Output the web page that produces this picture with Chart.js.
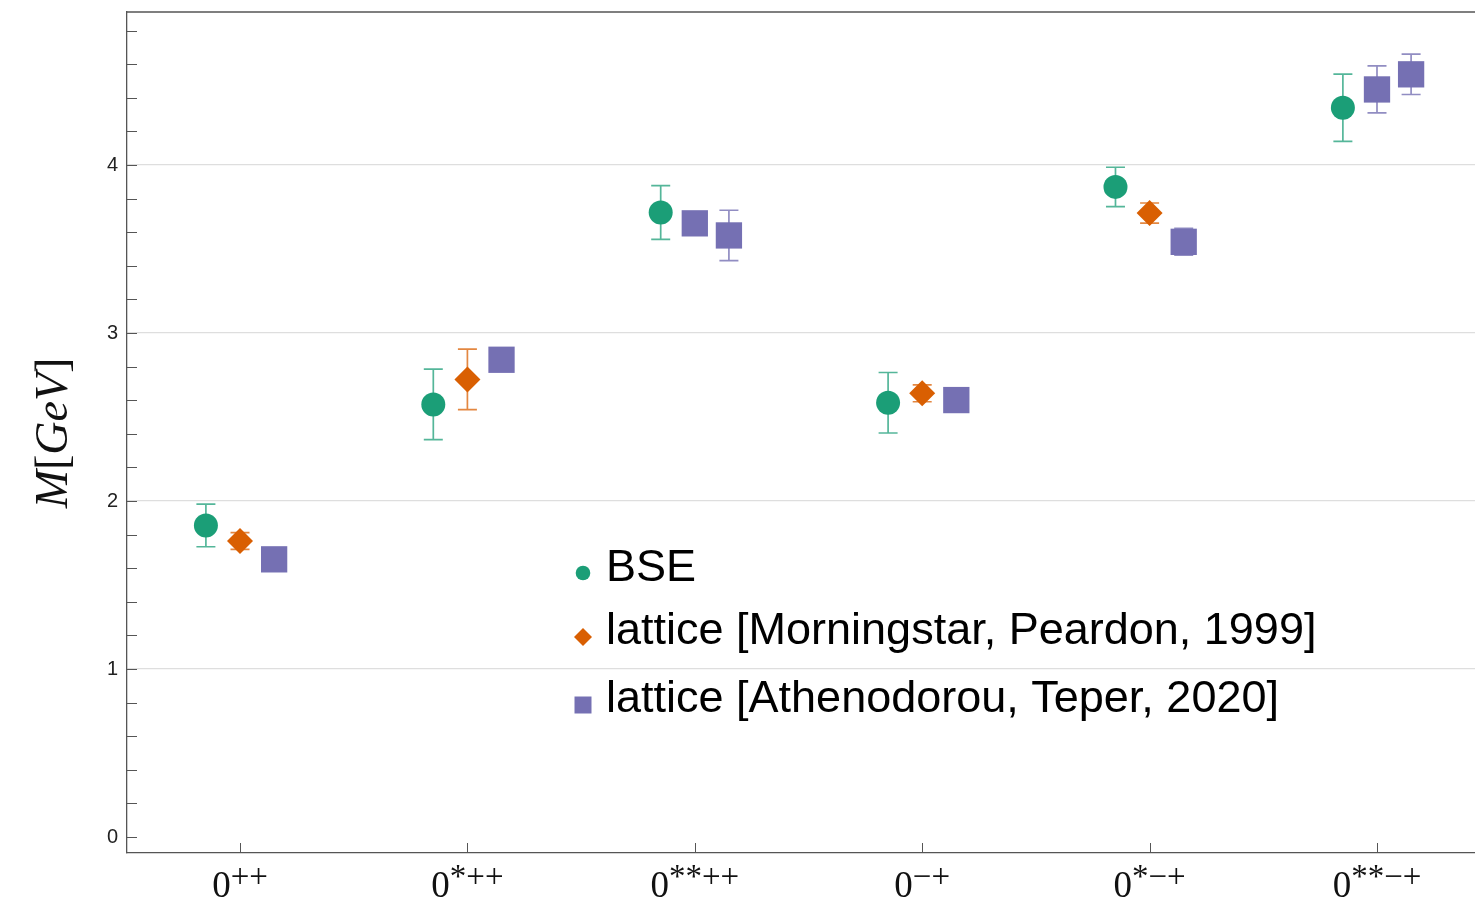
<!DOCTYPE html>
<html lang="en">
<head>
<meta charset="UTF-8">
<title>Glueball masses</title>
<script src="https://cdn.jsdelivr.net/npm/chart.js"></script>
<style>
  html, body { margin: 0; padding: 0; background: white; }
  canvas { display: block; }
</style>
</head>
<body>
<canvas id="mass-chart" width="1475" height="900"></canvas>
<script>
// states on the x axis: "0" with a superscript
const stateBase = ['0', '0', '0', '0', '0', '0'];
const stateSup = ['++', '*++', '**++', '\u2212+', '*\u2212+', '**\u2212+'];

// BSE
const bseState = [0, 1, 2, 3, 4, 5];
const bseMass = [1.855, 2.575, 3.718, 2.585, 3.870, 4.341];
const bseErr = [0.127, 0.21, 0.16, 0.18, 0.117, 0.20];

// lattice [Morningstar, Peardon, 1999]
const mpState = [0, 1, 3, 4];
const mpMass = [1.762, 2.724, 2.641, 3.714];
const mpErr = [0.05, 0.18, 0.05, 0.06];

// lattice [Athenodorou, Teper, 2020]
const atState = [0, 1, 2, 2, 3, 4, 5, 5];
const atMass = [1.653, 2.841, 3.653, 3.581, 2.601, 3.543, 4.450, 4.540];
const atErr = [null, null, null, 0.15, null, 0.08, 0.14, 0.12];

const yTicks = [0, 1, 2, 3, 4];

const legendNames = ['BSE', 'lattice [Morningstar, Peardon, 1999]', 'lattice [Athenodorou, Teper, 2020]'];

const green = '#1b9e77', orange = '#d95f02', purple = '#7570b3';

function points(states, masses, errs, shiftOf) {
    return states.map((s, i) => ({ x: s + shiftOf(s, i), y: masses[i], err: errs[i] }));
}

// lattice points: when a state has two entries the first one sits in the middle slot
const atShift = (s, i) => {
    const count = atState.filter(v => v === s).length;
    return (count > 1 && atState.indexOf(s) === i) ? 0 : 0.15;
};

const errorBars = {
    id: 'errorBars',
    beforeDatasetsDraw(chart) {
        const { ctx, scales: { x, y } } = chart;
        chart.data.datasets.forEach(ds => {
            ctx.save();
            ctx.strokeStyle = ds.errColor;
            ctx.lineWidth = 1.7;
            ds.data.forEach(p => {
                if (p.err == null) return;
                const px = x.getPixelForValue(p.x);
                const top = y.getPixelForValue(p.y + p.err);
                const bot = y.getPixelForValue(p.y - p.err);
                ctx.beginPath();
                ctx.moveTo(px, top); ctx.lineTo(px, bot);
                ctx.moveTo(px - 9.5, top); ctx.lineTo(px + 9.5, top);
                ctx.moveTo(px - 9.5, bot); ctx.lineTo(px + 9.5, bot);
                ctx.stroke();
            });
            ctx.restore();
        });
    }
};

function marker(ctx, style, cx, cy, size, color) {
    ctx.fillStyle = color;
    ctx.beginPath();
    if (style === 'circle') {
        ctx.arc(cx, cy, size, 0, Math.PI * 2);
    } else if (style === 'rectRot') {
        ctx.moveTo(cx - size, cy); ctx.lineTo(cx, cy - size);
        ctx.lineTo(cx + size, cy); ctx.lineTo(cx, cy + size);
        ctx.closePath();
    } else {
        ctx.rect(cx - size, cy - size, size * 2, size * 2);
    }
    ctx.fill();
}

const frame = {
    id: 'frame',
    afterDraw(chart) {
        const { ctx, chartArea: a, scales: { x, y } } = chart;
        ctx.save();
        ctx.strokeStyle = '#555';
        ctx.lineWidth = 1.3;
        // top border
        ctx.beginPath();
        ctx.moveTo(a.left, a.top); ctx.lineTo(a.right, a.top);
        ctx.stroke();

        // inward ticks, y every 0.2
        ctx.lineWidth = 1;
        ctx.beginPath();
        for (let k = 0; k <= 24; k++) {
            const py = Math.round(y.getPixelForValue(k / 5)) + 0.5;
            ctx.moveTo(a.left, py); ctx.lineTo(a.left + 10, py);
        }
        stateBase.forEach((_, i) => {
            const px = Math.round(x.getPixelForValue(i)) + 0.5;
            ctx.moveTo(px, a.bottom); ctx.lineTo(px, a.bottom - 10);
        });
        ctx.stroke();

        // x labels
        ctx.fillStyle = '#111';
        ctx.textBaseline = 'alphabetic';
        ctx.textAlign = 'left';
        stateBase.forEach((b, i) => {
            const px = x.getPixelForValue(i);
            ctx.font = '37px "Liberation Serif"';
            const wb = ctx.measureText(b).width;
            ctx.font = '33px "Liberation Serif"';
            const ws = ctx.measureText(stateSup[i]).width;
            const start = px - (wb + ws) / 2;
            ctx.font = '37px "Liberation Serif"';
            ctx.fillText(b, start, 897);
            ctx.font = '33px "Liberation Serif"';
            ctx.fillText(stateSup[i], start + wb, 887);
        });

        // y title M[GeV]
        const parts = [['M', 'italic'], ['[', 'normal'], ['GeV', 'italic'], [']', 'normal']];
        ctx.save();
        ctx.translate(67, 433);
        ctx.rotate(-Math.PI / 2);
        let total = 0;
        parts.forEach(([t, st]) => {
            ctx.font = st + ' 46px "Liberation Serif"';
            total += ctx.measureText(t).width;
        });
        let cx = -total / 2;
        parts.forEach(([t, st]) => {
            ctx.font = st + ' 46px "Liberation Serif"';
            ctx.fillText(t, cx, 0);
            cx += ctx.measureText(t).width;
        });
        ctx.restore();

        // legend
        const styles = [['circle', 7.3, green, 573], ['rectRot', 9, orange, 637], ['rect', 8.5, purple, 705]];
        const baselines = [581, 644, 712];
        ctx.font = '45px "Liberation Sans"';
        legendNames.forEach((name, i) => {
            const [st, sz, col, my] = styles[i];
            marker(ctx, st, 583, my, sz, col);
            ctx.fillStyle = '#000';
            ctx.fillText(name, 606, baselines[i]);
        });
        ctx.restore();
    }
};

new Chart(document.getElementById('mass-chart'), {
    type: 'scatter',
    data: {
        datasets: [
            {
                label: legendNames[0],
                data: points(bseState, bseMass, bseErr, () => -0.15),
                pointStyle: 'circle', pointRadius: 12,
                backgroundColor: green, borderColor: green, pointBorderWidth: 0,
                errColor: 'rgba(27,158,119,0.75)'
            },
            {
                label: legendNames[1],
                data: points(mpState, mpMass, mpErr, () => 0),
                pointStyle: 'rectRot', pointRadius: 13,
                backgroundColor: orange, borderColor: orange, pointBorderWidth: 0,
                errColor: 'rgba(217,95,2,0.75)'
            },
            {
                label: legendNames[2],
                data: points(atState, atMass, atErr, atShift),
                pointStyle: 'rect', pointRadius: 18.6,
                backgroundColor: purple, borderColor: purple, pointBorderWidth: 0,
                errColor: 'rgba(117,112,179,0.8)'
            }
        ]
    },
    options: {
        responsive: false,
        animation: false,
        events: [],
        layout: { autoPadding: false, padding: { top: 12, right: 0, left: 0, bottom: 0 } },
        plugins: {
            legend: { display: false },
            title: { display: false },
            tooltip: { enabled: false }
        },
        scales: {
            x: {
                type: 'linear',
                min: -0.497,
                max: 5.431,
                grid: { display: false, drawTicks: false },
                border: { display: true, color: '#555', width: 1.3 },
                ticks: { display: false },
                afterFit(scale) {
                    scale.height = 47;
                    scale.paddingLeft = 0; scale.paddingRight = 0;
                }
            },
            y: {
                type: 'linear',
                min: -0.095,
                max: 4.911,
                grid: {
                    drawTicks: false,
                    color: c => (c.tick && c.tick.value > 0) ? '#dedede' : 'rgba(0,0,0,0)',
                    lineWidth: 1.2
                },
                border: { display: true, color: '#555', width: 1.3 },
                afterBuildTicks(scale) { scale.ticks = yTicks.map(v => ({ value: v })); },
                ticks: {
                    color: '#222',
                    padding: 9,
                    font: { family: 'Liberation Sans', size: 20 },
                    callback: v => String(v)
                },
                afterFit(scale) {
                    scale.width = 127;
                    scale.paddingTop = 0; scale.paddingBottom = 0;
                }
            }
        }
    },
    plugins: [errorBars, frame]
});
</script>
</body>
</html>
